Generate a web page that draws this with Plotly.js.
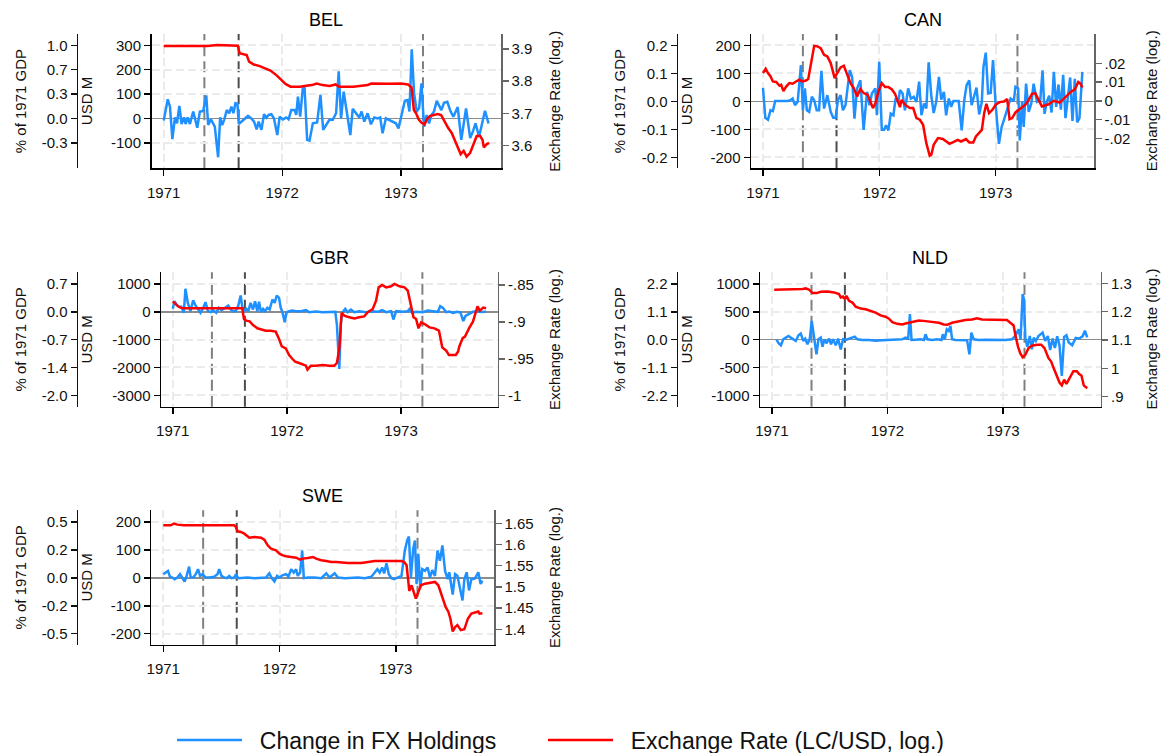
<!DOCTYPE html>
<html>
<head>
<meta charset="utf-8">
<script src="https://cdn.plot.ly/plotly-3.0.1.min.js"></script>
<style>html,body{margin:0;padding:0;background:#fff;}#chart{width:1163px;height:753px;}</style>
</head>
<body>
<div id="chart"></div>
<script>
// ---------------- DATA ----------------
const countries = ['BEL', 'CAN', 'GBR', 'NLD', 'SWE'];
const yearTicks = [1971, 1972, 1973];
const yearLabels = ['1971', '1972', '1973'];
const eventDates = [1971.343, 1971.632, 1973.187];
const seriesNames = ['Change in FX Holdings', 'Exchange Rate (LC/USD, log.)'];

// USD M ticks, matching % of 1971 GDP labels, exchange-rate ticks
const belUsdTicks = [-100, 0, 100, 200, 300];
const belPctLabels = ['-0.3', '0.0', '0.3', '0.7', '1.0'];
const belErTicks = [3.6, 3.7, 3.8, 3.9];
const belErLabels = ['3.6', '3.7', '3.8', '3.9'];

const canUsdTicks = [-200, -100, 0, 100, 200];
const canPctLabels = ['-0.2', '-0.1', '0.0', '0.1', '0.2'];
const canErTicks = [-0.02, -0.01, 0, 0.01, 0.02];
const canErLabels = ['-.02', '-.01', '0', '.01', '.02'];

const gbrUsdTicks = [-3000, -2000, -1000, 0, 1000];
const gbrPctLabels = ['-2.0', '-1.4', '-0.7', '0.0', '0.7'];
const gbrErTicks = [-1, -0.95, -0.9, -0.85];
const gbrErLabels = ['-1', '-.95', '-.9', '-.85'];

const nldUsdTicks = [-1000, -500, 0, 500, 1000];
const nldPctLabels = ['-2.2', '-1.1', '0.0', '1.1', '2.2'];
const nldErTicks = [0.9, 1.0, 1.1, 1.2, 1.3];
const nldErLabels = ['.9', '1', '1.1', '1.2', '1.3'];

const sweUsdTicks = [-200, -100, 0, 100, 200];
const swePctLabels = ['-0.5', '-0.2', '0.0', '0.2', '0.5'];
const sweErTicks = [1.4, 1.45, 1.5, 1.55, 1.6, 1.65];
const sweErLabels = ['1.4', '1.45', '1.5', '1.55', '1.6', '1.65'];

// Change in FX holdings, USD M: [date (year), value]
const belFx = [[1971.000,-8],[1971.034,79],[1971.053,49],[1971.073,-84],[1971.095,5],[1971.112,-19],[1971.132,52],[1971.151,-22],[1971.171,5],[1971.185,-22],[1971.202,5],[1971.221,-22],[1971.249,29],[1971.263,5],[1971.283,-37],[1971.305,29],[1971.333,31],[1971.359,95],[1971.375,-26],[1971.398,-3],[1971.431,-33],[1971.459,-158],[1971.476,5],[1971.493,-26],[1971.510,-5],[1971.532,35],[1971.552,22],[1971.571,49],[1971.588,22],[1971.605,63],[1971.622,60],[1971.633,-22],[1971.669,-5],[1971.711,11],[1971.739,1],[1971.762,-12],[1971.784,-44],[1971.801,-12],[1971.824,-46],[1971.846,18],[1971.866,4],[1971.885,15],[1971.908,18],[1971.930,1],[1971.958,-67],[1971.978,8],[1972.006,-3],[1972.034,5],[1972.053,-3],[1972.076,35],[1972.104,35],[1972.118,15],[1972.132,90],[1972.151,8],[1972.174,128],[1972.188,128],[1972.210,-87],[1972.230,-90],[1972.258,-19],[1972.294,-16],[1972.322,97],[1972.345,-46],[1972.370,-26],[1972.398,-5],[1972.426,-5],[1972.454,22],[1972.476,193],[1972.496,1],[1972.518,110],[1972.552,5],[1972.574,-67],[1972.594,40],[1972.622,22],[1972.650,5],[1972.669,29],[1972.692,-12],[1972.720,22],[1972.748,-23],[1972.776,5],[1972.804,1],[1972.826,5],[1972.846,-60],[1972.874,1],[1972.902,-5],[1972.930,-12],[1972.958,-19],[1972.980,-40],[1973.000,5],[1973.034,73],[1973.056,76],[1973.073,29],[1973.092,283],[1973.112,103],[1973.134,29],[1973.154,42],[1973.174,144],[1973.196,-33],[1973.218,15],[1973.238,-19],[1973.258,15],[1973.280,29],[1973.303,73],[1973.322,56],[1973.342,35],[1973.364,65],[1973.392,69],[1973.420,29],[1973.443,8],[1973.480,47],[1973.510,-87],[1973.550,42],[1973.585,-79],[1973.610,-50],[1973.630,-19],[1973.660,-74],[1973.710,32],[1973.740,-20]];

const canFx = [[1971.000,48],[1971.020,-59],[1971.043,-66],[1971.065,-32],[1971.085,-35],[1971.105,1],[1971.128,1],[1971.156,1],[1971.184,1],[1971.213,1],[1971.235,4],[1971.255,10],[1971.275,-14],[1971.298,-2],[1971.326,129],[1971.343,-32],[1971.360,46],[1971.377,-32],[1971.397,-38],[1971.420,16],[1971.440,4],[1971.462,-32],[1971.482,-32],[1971.502,109],[1971.525,-26],[1971.553,22],[1971.582,-38],[1971.604,-59],[1971.624,-59],[1971.644,4],[1971.667,22],[1971.687,-32],[1971.709,-14],[1971.746,111],[1971.766,87],[1971.786,-62],[1971.809,46],[1971.837,75],[1971.865,-102],[1971.894,34],[1971.916,-14],[1971.936,28],[1971.965,46],[1971.979,-50],[1971.999,141],[1972.021,-102],[1972.041,-102],[1972.058,-86],[1972.078,-104],[1972.098,-44],[1972.121,-50],[1972.140,10],[1972.163,-2],[1972.177,40],[1972.200,28],[1972.220,-32],[1972.248,46],[1972.271,10],[1972.296,16],[1972.319,-2],[1972.342,70],[1972.362,-50],[1972.384,-8],[1972.404,-26],[1972.424,139],[1972.447,18],[1972.467,-42],[1972.489,-2],[1972.512,87],[1972.532,6],[1972.555,34],[1972.574,-50],[1972.597,10],[1972.617,-20],[1972.637,1],[1972.660,1],[1972.682,1],[1972.708,-104],[1972.730,4],[1972.750,58],[1972.773,75],[1972.793,-14],[1972.816,16],[1972.835,49],[1972.858,-47],[1972.881,-2],[1972.895,123],[1972.915,174],[1972.935,28],[1972.957,30],[1972.977,147],[1973.000,-14],[1973.028,-152],[1973.051,-92],[1973.071,-66],[1973.099,-32],[1973.128,10],[1973.156,1],[1973.170,52],[1973.193,46],[1973.207,-140],[1973.227,-2],[1973.241,-92],[1973.261,63],[1973.284,-38],[1973.306,-8],[1973.326,63],[1973.355,-2],[1973.383,4],[1973.403,111],[1973.420,-45],[1973.440,0],[1973.460,20],[1973.480,-40],[1973.500,105],[1973.520,-20],[1973.540,60],[1973.560,-30],[1973.580,95],[1973.600,-60],[1973.620,10],[1973.640,85],[1973.660,-70],[1973.680,80],[1973.700,-75],[1973.720,-60],[1973.745,105]];

const gbrFx = [[1971.000,108],[1971.015,383],[1971.032,264],[1971.053,180],[1971.076,180],[1971.097,-36],[1971.111,827],[1971.132,323],[1971.155,24],[1971.179,419],[1971.199,228],[1971.220,84],[1971.243,-36],[1971.267,144],[1971.287,347],[1971.308,24],[1971.331,-12],[1971.354,60],[1971.381,-36],[1971.404,144],[1971.428,60],[1971.448,108],[1971.469,180],[1971.486,228],[1971.507,84],[1971.527,24],[1971.551,24],[1971.574,228],[1971.595,587],[1971.609,180],[1971.624,24],[1971.644,108],[1971.662,24],[1971.682,323],[1971.703,84],[1971.721,383],[1971.741,24],[1971.756,359],[1971.773,-12],[1971.791,108],[1971.808,24],[1971.829,144],[1971.849,84],[1971.873,443],[1971.893,323],[1971.911,587],[1971.931,503],[1971.946,144],[1971.961,-12],[1971.981,-371],[1971.996,-36],[1972.019,24],[1972.049,48],[1972.078,24],[1972.122,24],[1972.166,60],[1972.195,-12],[1972.254,12],[1972.312,-12],[1972.371,0],[1972.424,0],[1972.438,-455],[1972.459,-2049],[1972.473,-395],[1972.488,-12],[1972.511,108],[1972.532,-12],[1972.561,84],[1972.591,-12],[1972.634,24],[1972.693,-12],[1972.752,24],[1972.796,0],[1972.834,60],[1972.869,-12],[1972.913,24],[1972.933,-276],[1972.957,24],[1973.015,0],[1973.059,24],[1973.074,108],[1973.097,-36],[1973.132,0],[1973.191,-12],[1973.235,48],[1973.279,24],[1973.323,0],[1973.343,204],[1973.367,144],[1973.396,-12],[1973.425,12],[1973.455,-36],[1973.490,0],[1973.520,-20],[1973.545,-330],[1973.565,-150],[1973.600,-60],[1973.630,0],[1973.670,20],[1973.700,-10],[1973.745,0]];

const nldFx = [[1971.040,0],[1971.058,-66],[1971.078,-102],[1971.098,6],[1971.121,36],[1971.144,66],[1971.164,36],[1971.184,6],[1971.207,-24],[1971.230,78],[1971.250,108],[1971.271,-24],[1971.288,18],[1971.308,-84],[1971.328,18],[1971.345,337],[1971.366,-24],[1971.386,-265],[1971.403,6],[1971.423,36],[1971.438,-127],[1971.455,6],[1971.472,-66],[1971.495,18],[1971.512,-84],[1971.530,6],[1971.553,-102],[1971.573,18],[1971.596,-175],[1971.616,6],[1971.639,-6],[1971.668,18],[1971.697,36],[1971.717,54],[1971.740,6],[1971.783,-6],[1971.841,-6],[1971.898,-18],[1971.956,-12],[1972.013,-6],[1972.071,-12],[1972.128,6],[1972.157,36],[1972.180,18],[1972.195,458],[1972.209,-6],[1972.244,0],[1972.287,6],[1972.316,-6],[1972.330,96],[1972.347,6],[1972.387,-6],[1972.431,6],[1972.468,-6],[1972.480,96],[1972.497,6],[1972.514,187],[1972.531,157],[1972.546,247],[1972.560,6],[1972.589,-6],[1972.647,-6],[1972.690,-12],[1972.710,-265],[1972.727,127],[1972.747,6],[1972.790,-6],[1972.848,0],[1972.906,-6],[1972.963,0],[1973.021,-6],[1973.078,6],[1973.107,66],[1973.136,187],[1973.153,6],[1973.171,819],[1973.182,729],[1973.194,36],[1973.211,-127],[1973.233,66],[1973.250,-175],[1973.267,36],[1973.285,-24],[1973.308,66],[1973.325,96],[1973.344,127],[1973.366,-24],[1973.389,66],[1973.409,-187],[1973.430,20],[1973.450,-150],[1973.470,60],[1973.490,-100],[1973.510,-650],[1973.530,50],[1973.550,80],[1973.570,-50],[1973.600,-100],[1973.630,30],[1973.660,20],[1973.690,60],[1973.710,160],[1973.730,40]];

const sweFx = [[1971.000,13],[1971.020,19],[1971.040,25],[1971.058,4],[1971.078,1],[1971.098,-5],[1971.121,1],[1971.144,13],[1971.164,1],[1971.184,-13],[1971.201,7],[1971.222,40],[1971.236,1],[1971.259,1],[1971.279,13],[1971.299,31],[1971.317,7],[1971.337,13],[1971.366,1],[1971.394,1],[1971.438,4],[1971.466,13],[1971.481,31],[1971.501,7],[1971.524,1],[1971.547,-1],[1971.567,7],[1971.587,-1],[1971.610,1],[1971.625,13],[1971.645,-1],[1971.682,1],[1971.725,1],[1971.783,-1],[1971.841,1],[1971.884,1],[1971.912,16],[1971.933,-1],[1971.956,-13],[1971.979,7],[1971.999,1],[1972.028,10],[1972.056,13],[1972.077,4],[1972.100,31],[1972.123,19],[1972.143,31],[1972.157,7],[1972.177,19],[1972.195,98],[1972.209,-1],[1972.244,1],[1972.301,1],[1972.359,-1],[1972.402,16],[1972.431,1],[1972.474,16],[1972.503,1],[1972.561,-1],[1972.618,1],[1972.675,1],[1972.733,-1],[1972.790,4],[1972.819,19],[1972.842,31],[1972.862,19],[1972.883,37],[1972.900,16],[1972.920,52],[1972.940,13],[1972.963,-1],[1972.986,-5],[1973.021,1],[1973.049,7],[1973.078,98],[1973.098,134],[1973.113,148],[1973.130,1],[1973.150,104],[1973.165,134],[1973.179,-23],[1973.194,86],[1973.211,-35],[1973.228,31],[1973.251,25],[1973.274,37],[1973.294,1],[1973.314,28],[1973.337,7],[1973.360,98],[1973.380,61],[1973.401,116],[1973.424,25],[1973.447,-5],[1973.460,20],[1973.490,-60],[1973.510,14],[1973.530,8],[1973.574,-81],[1973.590,-5],[1973.610,20],[1973.630,-45],[1973.650,-5],[1973.680,-3],[1973.710,20],[1973.730,-22],[1973.745,-10]];

// Exchange rate (LC/USD, log.): [date (year), value]
const belEr = [[1971.000,3.909],[1971.330,3.907],[1971.370,3.909],[1971.450,3.912],[1971.550,3.910],[1971.625,3.910],[1971.640,3.887],[1971.670,3.884],[1971.700,3.881],[1971.720,3.861],[1971.760,3.852],[1971.810,3.847],[1971.850,3.840],[1971.900,3.833],[1971.950,3.819],[1971.990,3.806],[1972.030,3.791],[1972.070,3.783],[1972.150,3.783],[1972.200,3.786],[1972.250,3.788],[1972.290,3.793],[1972.340,3.788],[1972.400,3.785],[1972.450,3.790],[1972.480,3.783],[1972.600,3.783],[1972.720,3.788],[1972.750,3.793],[1972.900,3.792],[1973.000,3.793],[1973.060,3.790],[1973.090,3.781],[1973.110,3.711],[1973.130,3.700],[1973.150,3.682],[1973.175,3.671],[1973.200,3.666],[1973.220,3.682],[1973.245,3.692],[1973.270,3.695],[1973.310,3.698],[1973.340,3.695],[1973.370,3.674],[1973.400,3.655],[1973.430,3.639],[1973.465,3.607],[1973.505,3.574],[1973.530,3.584],[1973.555,3.566],[1973.585,3.578],[1973.617,3.607],[1973.640,3.630],[1973.670,3.630],[1973.690,3.617],[1973.700,3.595],[1973.725,3.605],[1973.745,3.609]];

const canEr = [[1971.000,0.0148],[1971.023,0.0171],[1971.043,0.0148],[1971.065,0.0130],[1971.085,0.0103],[1971.113,0.0100],[1971.142,0.0080],[1971.156,0.0085],[1971.176,0.0052],[1971.199,0.0076],[1971.227,0.0094],[1971.255,0.0091],[1971.284,0.0103],[1971.312,0.0112],[1971.340,0.0103],[1971.369,0.0108],[1971.389,0.0116],[1971.411,0.0201],[1971.440,0.0293],[1971.468,0.0290],[1971.496,0.0281],[1971.525,0.0245],[1971.553,0.0236],[1971.582,0.0201],[1971.616,0.0121],[1971.638,0.0148],[1971.667,0.0178],[1971.695,0.0187],[1971.723,0.0139],[1971.752,0.0094],[1971.780,0.0068],[1971.809,0.0023],[1971.837,0.0062],[1971.865,0.0041],[1971.899,0.0032],[1971.922,-0.0004],[1971.945,-0.0039],[1971.965,-0.0016],[1971.993,0.0050],[1972.021,0.0094],[1972.050,0.0073],[1972.078,0.0073],[1972.106,0.0062],[1972.135,0.0037],[1972.157,0.0002],[1972.177,-0.0034],[1972.191,0.0005],[1972.220,-0.0021],[1972.262,-0.0039],[1972.291,-0.0039],[1972.319,-0.0092],[1972.348,-0.0101],[1972.376,-0.0128],[1972.404,-0.0226],[1972.433,-0.0293],[1972.447,-0.0288],[1972.467,-0.0235],[1972.504,-0.0199],[1972.546,-0.0204],[1972.574,-0.0217],[1972.603,-0.0229],[1972.631,-0.0222],[1972.674,-0.0208],[1972.702,-0.0217],[1972.745,-0.0204],[1972.773,-0.0222],[1972.807,-0.0222],[1972.830,-0.0190],[1972.858,-0.0172],[1972.881,-0.0155],[1972.901,-0.0066],[1972.920,-0.0016],[1972.943,-0.0066],[1972.972,-0.0048],[1973.000,-0.0021],[1973.034,-0.0007],[1973.071,-0.0004],[1973.099,0.0009],[1973.119,-0.0098],[1973.142,-0.0092],[1973.170,-0.0062],[1973.199,-0.0048],[1973.227,-0.0034],[1973.255,-0.0021],[1973.284,0.0005],[1973.312,0.0037],[1973.340,0.0041],[1973.369,0.0005],[1973.397,-0.0030],[1973.450,-0.0020],[1973.500,0.0000],[1973.550,-0.0010],[1973.600,0.0020],[1973.650,0.0050],[1973.680,0.0060],[1973.710,0.0100],[1973.730,0.0090],[1973.745,0.0070]];

const gbrEr = [[1971.000,-0.8721],[1971.023,-0.8757],[1971.047,-0.8789],[1971.076,-0.8812],[1971.111,-0.8816],[1971.199,-0.8816],[1971.316,-0.8816],[1971.434,-0.8816],[1971.551,-0.8816],[1971.609,-0.8816],[1971.624,-0.8961],[1971.644,-0.8983],[1971.674,-0.8992],[1971.703,-0.9042],[1971.741,-0.9087],[1971.770,-0.9096],[1971.814,-0.9119],[1971.858,-0.9119],[1971.902,-0.9132],[1971.931,-0.9232],[1971.955,-0.9331],[1971.990,-0.9358],[1972.019,-0.9449],[1972.049,-0.9503],[1972.072,-0.9539],[1972.107,-0.9557],[1972.137,-0.9571],[1972.166,-0.9593],[1972.180,-0.9647],[1972.210,-0.9593],[1972.254,-0.9593],[1972.312,-0.9584],[1972.371,-0.9593],[1972.415,-0.9593],[1972.438,-0.9557],[1972.459,-0.9367],[1972.479,-0.8879],[1972.503,-0.8916],[1972.547,-0.8938],[1972.591,-0.8952],[1972.634,-0.8938],[1972.678,-0.8925],[1972.708,-0.8870],[1972.752,-0.8825],[1972.781,-0.8712],[1972.804,-0.8532],[1972.834,-0.8500],[1972.869,-0.8532],[1972.913,-0.8518],[1972.942,-0.8486],[1972.986,-0.8518],[1973.030,-0.8532],[1973.059,-0.8577],[1973.088,-0.8780],[1973.109,-0.8938],[1973.132,-0.8961],[1973.153,-0.9087],[1973.176,-0.9006],[1973.206,-0.9029],[1973.249,-0.9074],[1973.293,-0.9087],[1973.332,-0.9119],[1973.361,-0.9345],[1973.396,-0.9390],[1973.419,-0.9449],[1973.455,-0.9449],[1973.480,-0.9449],[1973.500,-0.9400],[1973.510,-0.9336],[1973.540,-0.9220],[1973.560,-0.9200],[1973.600,-0.9074],[1973.630,-0.8997],[1973.670,-0.8790],[1973.690,-0.8848],[1973.720,-0.8807],[1973.745,-0.8816]];

const nldEr = [[1971.020,1.2773],[1971.092,1.2773],[1971.178,1.2773],[1971.265,1.2797],[1971.294,1.2820],[1971.323,1.2773],[1971.351,1.2654],[1971.386,1.2654],[1971.423,1.2702],[1971.481,1.2714],[1971.538,1.2678],[1971.581,1.2618],[1971.596,1.2500],[1971.616,1.2535],[1971.633,1.2440],[1971.645,1.2559],[1971.668,1.2380],[1971.697,1.2321],[1971.725,1.2178],[1971.769,1.2107],[1971.812,1.2083],[1971.855,1.2023],[1971.898,1.1964],[1971.941,1.1869],[1971.984,1.1821],[1972.013,1.1750],[1972.042,1.1631],[1972.085,1.1571],[1972.128,1.1547],[1972.157,1.1583],[1972.215,1.1631],[1972.272,1.1690],[1972.330,1.1666],[1972.387,1.1643],[1972.445,1.1607],[1972.488,1.1547],[1972.517,1.1536],[1972.560,1.1607],[1972.618,1.1666],[1972.675,1.1702],[1972.733,1.1726],[1972.776,1.1762],[1972.819,1.1726],[1972.877,1.1726],[1972.934,1.1726],[1972.992,1.1726],[1973.035,1.1702],[1973.064,1.1607],[1973.093,1.1512],[1973.107,1.1190],[1973.130,1.0774],[1973.150,1.0536],[1973.171,1.0393],[1973.194,1.0476],[1973.222,1.0714],[1973.251,1.0798],[1973.294,1.0833],[1973.332,1.0833],[1973.360,1.0714],[1973.395,1.0357],[1973.418,1.0238],[1973.440,1.0000],[1973.470,0.9700],[1973.490,0.9500],[1973.510,0.9400],[1973.530,0.9600],[1973.550,0.9450],[1973.580,0.9700],[1973.610,0.9900],[1973.640,0.9900],[1973.660,0.9800],[1973.680,0.9750],[1973.700,0.9400],[1973.730,0.9300]];

const sweEr = [[1971.000,1.6453],[1971.063,1.6453],[1971.092,1.6492],[1971.121,1.6469],[1971.178,1.6453],[1971.265,1.6453],[1971.351,1.6469],[1971.438,1.6453],[1971.524,1.6453],[1971.610,1.6453],[1971.625,1.6414],[1971.639,1.6311],[1971.668,1.6296],[1971.697,1.6256],[1971.740,1.6162],[1971.783,1.6178],[1971.841,1.6162],[1971.869,1.6115],[1971.898,1.5981],[1971.927,1.5903],[1971.970,1.5863],[1971.999,1.5785],[1972.028,1.5745],[1972.056,1.5722],[1972.100,1.5706],[1972.143,1.5690],[1972.177,1.5643],[1972.200,1.5667],[1972.244,1.5683],[1972.287,1.5706],[1972.315,1.5667],[1972.359,1.5628],[1972.402,1.5612],[1972.445,1.5588],[1972.488,1.5588],[1972.531,1.5573],[1972.589,1.5565],[1972.647,1.5565],[1972.704,1.5565],[1972.762,1.5588],[1972.819,1.5612],[1972.877,1.5612],[1972.934,1.5612],[1972.992,1.5612],[1973.049,1.5612],[1973.073,1.5588],[1973.093,1.5510],[1973.107,1.5156],[1973.116,1.4905],[1973.136,1.5038],[1973.159,1.4826],[1973.173,1.4724],[1973.194,1.4881],[1973.217,1.5038],[1973.251,1.5077],[1973.294,1.5101],[1973.337,1.5117],[1973.366,1.5038],[1973.389,1.4842],[1973.409,1.4700],[1973.429,1.4527],[1973.453,1.4409],[1973.470,1.4250],[1973.490,1.3950],[1973.510,1.4050],[1973.530,1.4100],[1973.560,1.3980],[1973.590,1.4000],[1973.620,1.4250],[1973.650,1.4370],[1973.680,1.4390],[1973.710,1.4420],[1973.720,1.4370],[1973.745,1.4380]];

// ---------------- LAYOUT / STYLE ----------------
const W = 1163, H = 753;
const px = v => v / W;
const py = v => 1 - v / H;
const FONT = 'Liberation Sans, Arial, Helvetica, sans-serif';
const BLUE = 'rgb(30,144,255)';
const RED = 'rgb(255,0,0)';
const XRANGE = [1970.897, 1973.845];

const fxData = [belFx, canFx, gbrFx, nldFx, sweFx];
const erData = [belEr, canEr, gbrEr, nldEr, sweEr];
const usdTicks = [belUsdTicks, canUsdTicks, gbrUsdTicks, nldUsdTicks, sweUsdTicks];
const pctLabels = [belPctLabels, canPctLabels, gbrPctLabels, nldPctLabels, swePctLabels];
const erTicks = [belErTicks, canErTicks, gbrErTicks, nldErTicks, sweErTicks];
const erLabels = [belErLabels, canErLabels, gbrErLabels, nldErLabels, sweErLabels];

// panel geometry in pixels (positions / styles only)
const geom = [
  {x0: 151.5, x1: 501,   outer: 76.5,  top: 34,    bot: 168.3, usd: [-203, 346],    er: [3.530, 3.9465],    col: 0},
  {x0: 751,   x1: 1094,  outer: 676.5, top: 34,    bot: 168.3, usd: [-239.5, 240.5], er: [-0.036, 0.0356],  col: 1},
  {x0: 161,   x1: 497.5, outer: 76.5,  top: 272.3, bot: 406.7, usd: [-3410, 1421],  er: [-1.0149, -0.8328],  col: 0},
  {x0: 760,   x1: 1100.5,outer: 676.5, top: 272.3, bot: 406.7, usd: [-1205, 1210],  er: [0.8647, 1.3388],   col: 1},
  {x0: 151.3, x1: 494,   outer: 76.5,  top: 510.3, bot: 644.7, usd: [-239.5, 242],  er: [1.3637, 1.6807],   col: 0}
];
const titleX = [[20, 86, 554.5], [619, 686, 1151]];

const tickFont = {family: FONT, size: 15, color: '#111'};
const traces = [];
const pad = '\u00a0\u00a0';
const legendStyle = (xpx) => ({orientation: 'h', x: px(xpx), y: py(740), xanchor: 'left', yanchor: 'middle',
  font: {family: FONT, size: 23, color: '#111'}, itemwidth: 65, bgcolor: 'rgba(0,0,0,0)'});
const layout = {
  width: W, height: H,
  margin: {l: 0, r: 0, t: 0, b: 0, autoexpand: false},
  paper_bgcolor: '#fff', plot_bgcolor: 'rgba(0,0,0,0)',
  font: {family: FONT, color: '#111'},
  showlegend: true,
  legend: legendStyle(172),
  legend2: legendStyle(543),
  shapes: [], annotations: []
};

countries.forEach((name, i) => {
  const g = geom[i];
  const xn = i === 0 ? '' : String(i + 1);
  const nU = 3 * i + 1, nP = 3 * i + 2, nE = 3 * i + 3;
  const yn = n => (n === 1 ? '' : String(n));
  const dom = [py(g.bot), py(g.top)];

  layout['xaxis' + xn] = {
    domain: [px(g.x0), px(g.x1)], anchor: 'y' + yn(nU), range: XRANGE,
    tickvals: yearTicks, ticktext: yearLabels, ticks: 'outside', ticklen: 6, tickwidth: 1.5, tickcolor: '#000',
    ticklabelstandoff: 4,
    showline: true, linecolor: '#000', linewidth: 1.5,
    showgrid: true, gridcolor: '#ebebeb', griddash: '8px,4px', gridwidth: 2,
    zeroline: false, tickfont: tickFont, fixedrange: true
  };
  layout['yaxis' + yn(nU)] = {
    domain: dom, anchor: 'x' + xn, range: g.usd,
    tickvals: usdTicks[i], ticktext: usdTicks[i].map(String), ticks: 'outside', ticklen: 6, tickwidth: 1.5, tickcolor: '#000',
    showline: true, linecolor: '#000', linewidth: 1.5,
    showgrid: true, gridcolor: '#ebebeb', griddash: '8px,4px', gridwidth: 2,
    zeroline: true, zerolinecolor: '#8c8c8c', zerolinewidth: 1.5,
    tickfont: tickFont, fixedrange: true
  };
  layout['yaxis' + yn(nP)] = {
    overlaying: 'y' + yn(nU), anchor: 'free', position: px(g.outer), side: 'left', range: g.usd,
    tickvals: usdTicks[i], ticktext: pctLabels[i], ticks: 'outside', ticklen: 6, tickwidth: 1.5, tickcolor: '#111',
    showline: true, linecolor: '#111', linewidth: 1.5, showgrid: false, zeroline: false,
    tickfont: tickFont, fixedrange: true
  };
  layout['yaxis' + yn(nE)] = {
    overlaying: 'y' + yn(nU), anchor: 'x' + xn, side: 'right', range: g.er,
    tickvals: erTicks[i], ticktext: erLabels[i], ticks: 'outside', ticklen: 6, tickwidth: 1.5, tickcolor: '#666',
    showline: true, linecolor: '#666', linewidth: 1.5, showgrid: false, zeroline: false,
    tickfont: tickFont, fixedrange: true
  };

  traces.push({
    x: [], y: [], xaxis: 'x' + xn, yaxis: 'y' + yn(nP), mode: 'lines',
    showlegend: false, hoverinfo: 'skip'
  });
  traces.push({
    x: fxData[i].map(d => d[0]), y: fxData[i].map(d => d[1]),
    xaxis: 'x' + xn, yaxis: 'y' + yn(nU), mode: 'lines',
    line: {color: BLUE, width: 2.5}, name: pad + seriesNames[0], legend: 'legend', showlegend: i === 0
  });
  traces.push({
    x: erData[i].map(d => d[0]), y: erData[i].map(d => d[1]),
    xaxis: 'x' + xn, yaxis: 'y' + yn(nE), mode: 'lines',
    line: {color: RED, width: 2.5}, name: pad + seriesNames[1], legend: 'legend2', showlegend: i === 0
  });

  eventDates.forEach((d, k) => {
    layout.shapes.push({
      type: 'line', xref: 'x' + xn, yref: 'y' + yn(nU) + ' domain', x0: d, x1: d, y0: 0, y1: 1,
      line: {color: k === 1 ? '#4d4d4d' : '#808080', width: 2, dash: '11px,5px'}, layer: 'below'
    });
  });

  const tx = titleX[g.col];
  const midY = (g.top + g.bot) / 2;
  layout.annotations.push({text: name, xref: 'paper', yref: 'paper', x: px((g.x0 + g.x1) / 2), y: py(g.top - 14),
    xanchor: 'center', yanchor: 'middle', showarrow: false, font: {family: FONT, size: 18, color: '#000'}});
  layout.annotations.push({text: '% of 1971 GDP', xref: 'paper', yref: 'paper', x: px(tx[0]), y: py(midY), textangle: -90,
    xanchor: 'center', yanchor: 'middle', showarrow: false, font: {family: FONT, size: 15, color: '#111'}});
  layout.annotations.push({text: 'USD M', xref: 'paper', yref: 'paper', x: px(tx[1]), y: py(midY), textangle: -90,
    xanchor: 'center', yanchor: 'middle', showarrow: false, font: {family: FONT, size: 15, color: '#111'}});
  layout.annotations.push({text: 'Exchange Rate (log.)', xref: 'paper', yref: 'paper', x: px(tx[2]), y: py(midY), textangle: -90,
    xanchor: 'center', yanchor: 'middle', showarrow: false, font: {family: FONT, size: 15, color: '#111'}});
});

Plotly.newPlot('chart', traces, layout, {displayModeBar: false, staticPlot: true});
</script>
</body>
</html>
